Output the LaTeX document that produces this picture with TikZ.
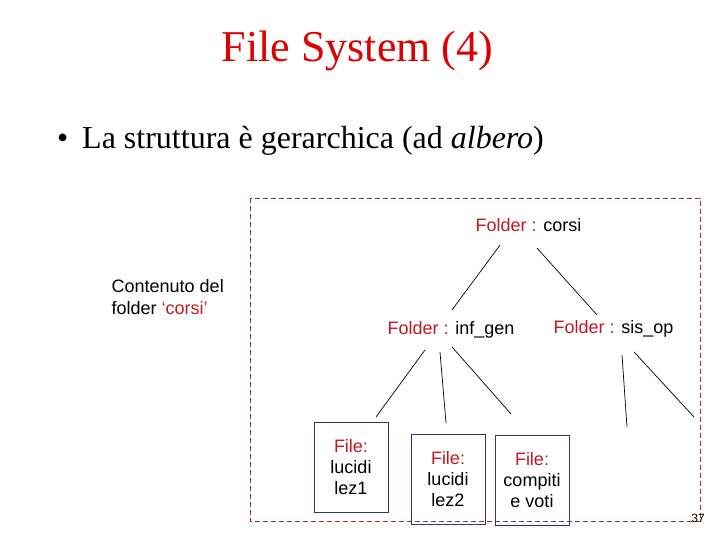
\documentclass[tikz,border=0pt]{standalone}
\usepackage{fontspec}
\setmainfont{Liberation Serif}
\setsansfont{Liberation Sans}
\usetikzlibrary{calc}
\definecolor{titlered}{RGB}{222,0,0}
\definecolor{foldred}{RGB}{192,24,32}
\definecolor{framered}{RGB}{170,40,40}
\definecolor{boxblue}{RGB}{50,50,120}

\begin{document}
\begin{tikzpicture}[x=1pt,y=-1pt,
  lbl/.style={font=\sffamily\fontsize{18}{22}\selectfont,inner sep=0pt},
  filebox/.style={draw=boxblue,line width=0.8pt,align=center,minimum width=74pt,minimum height=90pt,inner sep=0pt,font=\sffamily\fontsize{18}{21}\selectfont},
  edge/.style={line width=0.7pt}]
\useasboundingbox (0,0) rectangle (720,540);
\node[anchor=base,text=titlered,font=\fontsize{44}{50}\selectfont,inner sep=0pt] (title) at (357.5,62) {File System (4)};
\node[anchor=base west,font=\fontsize{32}{38}\selectfont,inner sep=0pt] (dot) at (57,149) {\textbullet};
\node[anchor=base west,font=\fontsize{32}{38}\selectfont,inner sep=0pt] (intro) at (82,149) {La struttura è gerarchica (ad \textit{albero})};
\draw[framered,line width=0.8pt,dash pattern=on 5pt off 3pt] (250,198) rectangle (700,521);

\node[lbl,anchor=north west,align=left] (cont) at (111.5,279) {Contenuto del\\folder {\color{foldred}‘corsi’}};

\node[lbl,anchor=base] (corsi) at (528.5,231) {{\color{foldred}Folder :} corsi};
\node[lbl,anchor=base] (infgen) at (451,334) {{\color{foldred}Folder :} inf\_gen};
\node[lbl,anchor=base] (sisop) at (613.5,333) {{\color{foldred}Folder :} sis\_op};

\node[filebox] (lez1) at (351,467) {{\color{foldred}File:}\\lucidi\\lez1};
\node[filebox] (lez2) at (448,479) {{\color{foldred}File:}\\lucidi\\lez2};
\node[filebox] (voti) at (532,480.5) {{\color{foldred}File:}\\compiti\\e voti};

\coordinate (sisopA) at (627,427);
\coordinate (sisopB) at (694,417);

\draw[edge] ($(corsi)+(-28.5,20.5)$) -- ($(infgen)+(1,-19.4)$);
\draw[edge] ($(corsi)+(8.5,23.5)$) -- ($(sisop)+(-16.5,-13.4)$);
\draw[edge] ($(infgen)+(-26,20.6)$) -- ($(lez1)+(25,-50)$);
\draw[edge] ($(infgen)+(-11,22.6)$) -- ($(lez2)+(-2,-56)$);
\draw[edge] ($(infgen)+(1,17.6)$) -- ($(voti)+(-21,-66.5)$);
\draw[edge] ($(sisop)+(8.5,26.6)$) -- (sisopA);
\draw[edge] ($(sisop)+(20.5,23.6)$) -- (sisopB);

\node[font=\sffamily\fontsize{12}{14}\selectfont,inner sep=0pt] (page) at (698,518) {37};
\end{tikzpicture}
\end{document}
